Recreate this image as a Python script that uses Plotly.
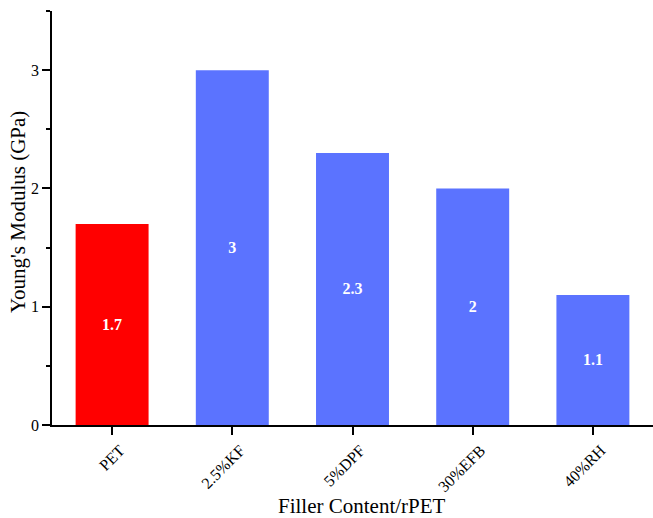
import plotly.graph_objects as go

categories = ["PET", "2.5%KF", "5%DPF", "30%EFB", "40%RH"]
values = [1.7, 3.0, 2.3, 2.0, 1.1]
labels = ["1.7", "3", "2.3", "2", "1.1"]
colors = ["#FF0000", "#5B73FF", "#5B73FF", "#5B73FF", "#5B73FF"]

FONT = "Liberation Serif, Times New Roman, serif"

fig = go.Figure(go.Bar(
    x=categories, y=values, text=labels,
    marker=dict(color=colors, line=dict(width=0)),
    width=0.607,
    textposition="inside", insidetextanchor="middle",
    textfont=dict(family=FONT, size=16, color="white", weight="bold"),
    textangle=0,
))

fig.update_layout(
    width=653, height=518,
    margin=dict(l=52, r=0, t=11, b=93),
    plot_bgcolor="white", paper_bgcolor="white",
    font=dict(family=FONT, color="black"),
    showlegend=False,
    xaxis=dict(
        range=[-0.5, 4.5],
        showline=True, linecolor="black", linewidth=1.5,
        ticks="outside", ticklen=8, tickwidth=1.5, tickcolor="black",
        tickangle=-45, tickfont=dict(size=16, family=FONT),
        ticklabelshift=8,
        showgrid=False, zeroline=False,
        automargin=False,
    ),
    yaxis=dict(
        range=[0, 3.5],
        tickvals=[0, 1, 2, 3],
        showline=True, linecolor="black", linewidth=1.5,
        ticks="outside", ticklen=8, tickwidth=1.5, tickcolor="black",
        tickfont=dict(size=16, family=FONT),
        minor=dict(tickvals=[0.5, 1.5, 2.5, 3.5], ticks="outside", ticklen=4, tickwidth=1.5, tickcolor="black"),
        showgrid=False, zeroline=False,
        automargin=False,
    ),
    annotations=[
        dict(
            text="Filler Content/rPET", xref="paper", yref="paper",
            x=(362 - 52) / 601, y=-(506 - 425) / 414, xanchor="center", yanchor="middle",
            showarrow=False, font=dict(size=21, family=FONT),
        ),
        dict(
            text="Young's Modulus (GPa)", xref="paper", yref="paper",
            x=-(52 - 18) / 601, y=(425 - 212) / 414, xanchor="center", yanchor="middle",
            textangle=-90, showarrow=False, font=dict(size=21, family=FONT),
        ),
    ],
)

fig.write_html("out.html", config={"displayModeBar": False},
               post_script="document.body.style.margin='0';document.body.style.overflow='hidden';")
